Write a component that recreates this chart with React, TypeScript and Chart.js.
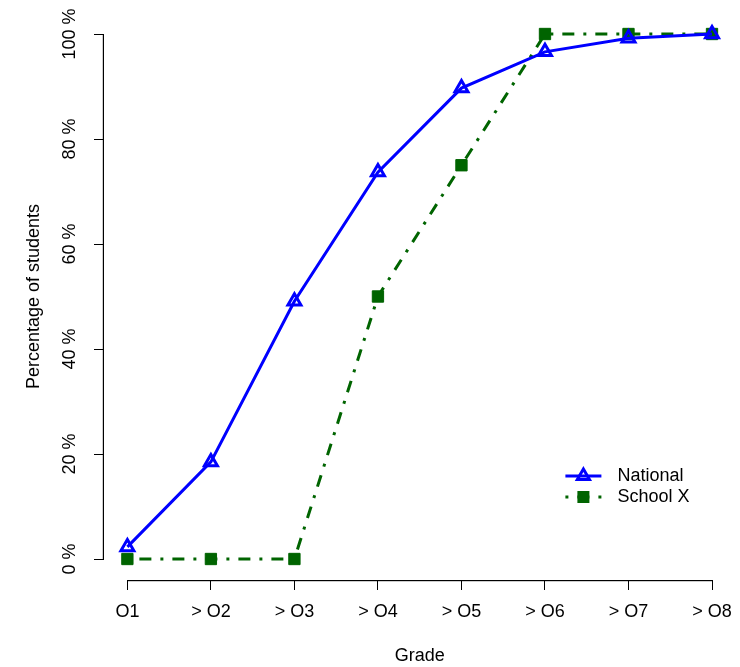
import React, { useEffect, useRef } from "react";
import { Chart, registerables } from "chart.js";

Chart.register(...registerables);

const grades = ["O1", "> O2", "> O3", "> O4", "> O5", "> O6", "> O7", "> O8"];
const nationalPct = [2.3, 18.5, 49.1, 73.7, 89.7, 96.6, 99.2, 100];
const schoolXPct = [0, 0, 0, 50, 75, 100, 100, 100];
const yTickValues = [0, 20, 40, 60, 80, 100];
const seriesNames = ["National", "School X"];
const xTitle = "Grade";
const yTitle = "Percentage of students";

const FAMILY = "'Liberation Sans', Arial, Helvetica, sans-serif";
const FONT_SIZE = 18;
const BLUE = "#0000FF";
const GREEN = "#006400";
const GREEN_DASH = [3, 9, 12, 9];

function drawTriangle(ctx: CanvasRenderingContext2D, cx: number, cy: number, r: number) {
  ctx.beginPath();
  ctx.moveTo(cx, cy - r);
  ctx.lineTo(cx + (r * Math.sqrt(3)) / 2, cy + r / 2);
  ctx.lineTo(cx - (r * Math.sqrt(3)) / 2, cy + r / 2);
  ctx.closePath();
}

const rDecorPlugin = {
  id: "rdecor",
  afterDraw(chart: any) {
    const ctx: CanvasRenderingContext2D = chart.ctx;
    const chartArea = chart.chartArea;
    const xs = chart.scales.x;
    const ys = chart.scales.y;
    ctx.save();
    ctx.setLineDash([]);
    ctx.globalAlpha = 1;
    ctx.globalCompositeOperation = "source-over";
    // R-style axis lines spanning only the tick range
    ctx.fillStyle = "#000000";
    const xa = Math.round(xs.getPixelForValue(1));
    const xb = Math.round(xs.getPixelForValue(grades.length));
    const yBottom = Math.round(chartArea.bottom);
    ctx.fillRect(xa, yBottom, xb - xa + 1, 1.2);
    const ya = Math.round(ys.getPixelForValue(yTickValues[yTickValues.length - 1]));
    const yz = Math.round(ys.getPixelForValue(yTickValues[0]));
    const xLeft = Math.round(chartArea.left) - 1;
    ctx.fillRect(xLeft - 0.2, ya, 1.2, yz - ya + 1);

    // R-style legend
    const x0 = chartArea.right - 170;
    const x1 = x0 + 36;
    const xm = (x0 + x1) / 2;
    const rows = [chartArea.top + 463, chartArea.top + 484];
    ctx.strokeStyle = BLUE;
    ctx.lineWidth = 3;
    ctx.beginPath();
    ctx.moveTo(x0, rows[0]);
    ctx.lineTo(x1, rows[0]);
    ctx.stroke();
    drawTriangle(ctx, xm, rows[0], 7);
    ctx.stroke();
    ctx.strokeStyle = GREEN;
    ctx.setLineDash(GREEN_DASH);
    ctx.beginPath();
    ctx.moveTo(x0, rows[1]);
    ctx.lineTo(x1, rows[1]);
    ctx.stroke();
    ctx.setLineDash([]);
    ctx.fillStyle = GREEN;
    ctx.fillRect(xm - 6, rows[1] - 6, 12, 12);
    ctx.fillStyle = "#000000";
    ctx.font = `${FONT_SIZE}px ${FAMILY}`;
    ctx.textAlign = "left";
    ctx.textBaseline = "middle";
    ctx.fillText(seriesNames[0], x1 + 16, rows[0]);
    ctx.fillText(seriesNames[1], x1 + 16, rows[1]);
    ctx.restore();
  },
};

export default function App() {
  const canvasRef = useRef<HTMLCanvasElement | null>(null);

  useEffect(() => {
    document.body.style.margin = "0";
    const canvas = canvasRef.current;
    if (!canvas) return;
    const font = { family: FAMILY, size: FONT_SIZE };
    const chart = new Chart(canvas, {
      type: "line",
      data: {
        datasets: [
          {
            label: seriesNames[0],
            data: nationalPct.map((v, i) => ({ x: i + 1, y: v })),
            borderColor: BLUE,
            borderWidth: 3,
            pointStyle: "triangle",
            pointRadius: 7.5,
            pointBorderWidth: 3,
            pointBorderColor: BLUE,
            pointBackgroundColor: "rgba(0,0,0,0)",
            fill: false,
            tension: 0,
          },
          {
            label: seriesNames[1],
            data: schoolXPct.map((v, i) => ({ x: i + 1, y: v })),
            borderColor: GREEN,
            borderWidth: 3,
            borderDash: GREEN_DASH,
            borderCapStyle: "butt",
            pointStyle: "rect",
            pointRadius: 8,
            pointBorderWidth: 1,
            pointBorderColor: GREEN,
            pointBackgroundColor: GREEN,
            fill: false,
            tension: 0,
          },
        ],
      },
      options: {
        animation: false,
        responsive: false,
        maintainAspectRatio: false,
        layout: { autoPadding: false, padding: { top: 13, right: 4.6, left: 0, bottom: 0 } },
        plugins: {
          legend: { display: false },
          tooltip: { enabled: false },
        },
        scales: {
          x: {
            type: "linear",
            min: 1 - 0.04 * (grades.length - 1),
            max: grades.length + 0.04 * (grades.length - 1),
            afterBuildTicks: (s: any) => {
              s.ticks = grades.map((_, i) => ({ value: i + 1 }));
            },
            afterFit: (s: any) => {
              s.height = 87;
              s.paddingLeft = 0;
              s.paddingRight = 0;
            },
            ticks: {
              callback: (v: any) => grades[Number(v) - 1] ?? "",
              font,
              color: "#000",
              padding: 11,
              autoSkip: false,
              minRotation: 0,
              maxRotation: 0,
            },
            grid: {
              drawOnChartArea: false,
              drawTicks: true,
              tickLength: 10,
              color: "#000",
              lineWidth: 1,
            },
            border: { display: false },
            title: {
              display: true,
              text: xTitle,
              font,
              color: "#000",
              padding: { top: 0, bottom: 0 },
            },
          },
          y: {
            type: "linear",
            min: -4,
            max: 104,
            afterBuildTicks: (s: any) => {
              s.ticks = yTickValues.map((v) => ({ value: v }));
            },
            afterFit: (s: any) => {
              s.width = 104;
              s.paddingTop = 0;
              s.paddingBottom = 0;
            },
            ticks: {
              callback: (v: any) => `${v} %`,
              font,
              color: "#000",
              padding: -2,
              minRotation: 90,
              maxRotation: 90,
              crossAlign: "center",
              autoSkip: false,
            },
            grid: {
              drawOnChartArea: false,
              drawTicks: true,
              tickLength: 10,
              color: "#000",
              lineWidth: 1,
            },
            border: { display: false },
            title: {
              display: true,
              text: yTitle,
              font,
              color: "#000",
              padding: { top: 23, bottom: 0 },
            },
          },
        },
      } as any,
      plugins: [rDecorPlugin],
    });
    return () => chart.destroy();
  }, []);

  return (
    <div style={{ width: 740, height: 667 }}>
      <canvas ref={canvasRef} width={740} height={667} style={{ display: "block" }} />
    </div>
  );
}
